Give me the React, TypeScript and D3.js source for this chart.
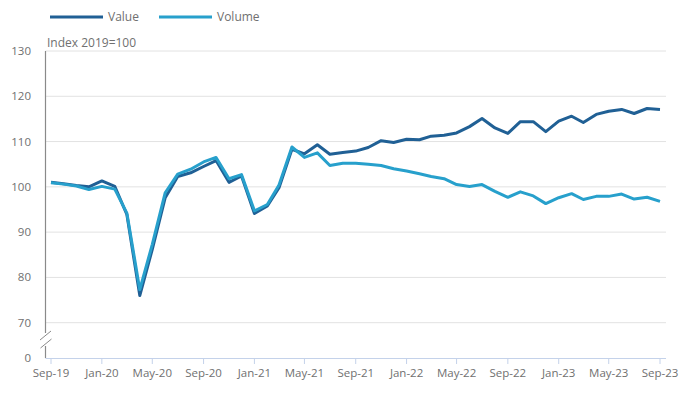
import React from 'react';
import * as d3 from 'd3';

// monthly index, Sep-19 .. Sep-23 (2019=100)
const startMonth = new Date(2019, 8, 1);
const endMonth = new Date(2023, 8, 1);
const months = d3.timeMonth.range(startMonth, d3.timeMonth.offset(endMonth, 1));

const valueSeries = [
  101.0, 100.7, 100.3, 100.0, 101.3, 100.1, 93.9, 76.0, 86.2, 97.6, 102.3, 103.1,
  104.5, 105.8, 101.0, 102.4, 94.1, 95.8, 99.8, 108.3, 107.3, 109.3, 107.2, 107.6,
  107.9, 108.7, 110.2, 109.8, 110.5, 110.4, 111.2, 111.4, 111.9, 113.3, 115.1, 113.0,
  111.8, 114.4, 114.4, 112.2, 114.5, 115.6, 114.2, 116.0, 116.7, 117.1, 116.2, 117.3,
  117.1,
];

const volumeSeries = [
  100.9, 100.6, 100.2, 99.4, 100.1, 99.5, 94.2, 77.3, 87.3, 98.7, 102.8, 103.9,
  105.5, 106.5, 101.8, 102.7, 94.7, 96.1, 100.4, 108.8, 106.5, 107.5, 104.7, 105.2,
  105.2, 105.0, 104.7, 104.0, 103.5, 102.9, 102.3, 101.8, 100.5, 100.1, 100.5, 99.0,
  97.7, 98.9, 98.0, 96.3, 97.6, 98.5, 97.2, 97.9, 97.9, 98.4, 97.3, 97.7,
  96.8,
];

const yTicks = [0, 70, 80, 90, 100, 110, 120, 130];
const seriesNames = ['Value', 'Volume'];
const colors = ['#206095', '#27a0cc'];

const W = 686;
const H = 398;
const left = 45.5;
const right = 666;

export default function App() {
  const x = d3.scaleTime().domain([startMonth, endMonth]).range([51, 660]);
  // broken axis: 0 sits just below 70
  const y = d3.scaleLinear().domain([0, 70, 130]).range([358, 322.7, 51]);

  const xTicks = d3.timeMonth.every(4)!.range(startMonth, d3.timeMonth.offset(endMonth, 1));
  const fmt = d3.timeFormat('%b-%y');

  const line = d3
    .line<number>()
    .x((_, i) => x(months[i]))
    .y((d) => y(d));

  const textColor = '#707070';
  const font = "'Open Sans', sans-serif";

  return (
    <svg
      width={W}
      height={H}
      style={{ position: 'absolute', left: 0, top: 0, background: '#fff' }}
      fontFamily={font}
    >
      {/* legend */}
      {seriesNames.map((name, i) => {
        const lx = i === 0 ? 50 : 159;
        return (
          <g key={name}>
            <line x1={lx} x2={lx + 53} y1={17} y2={17} stroke={colors[i]} strokeWidth={3} />
            <text x={lx + 58} y={17} dy="0.35em" fontSize={12} fill={textColor}>
              {name}
            </text>
          </g>
        );
      })}

      <text x={47} y={47} fontSize={12} fill={textColor}>
        Index 2019=100
      </text>

      {/* gridlines */}
      {yTicks
        .filter((t) => t > 0)
        .map((t) => (
          <line key={t} x1={left} x2={right} y1={y(t)} y2={y(t)} stroke="#e2e2e2" strokeWidth={1} />
        ))}

      {/* y labels */}
      {yTicks.map((t) => (
        <text
          key={t}
          x={31}
          y={y(t)}
          dy="0.35em"
          textAnchor="end"
          fontSize={11.5}
          fill={textColor}
        >
          {t}
        </text>
      ))}

      {/* y axis with break */}
      <line x1={left} x2={left} y1={y(130)} y2={333} stroke="#8a8a8a" strokeWidth={1.2} />
      <line x1={left} x2={left} y1={346} y2={358} stroke="#8a8a8a" strokeWidth={1.2} />
      <line x1={40} x2={51} y1={340} y2={331} stroke="#8a8a8a" strokeWidth={1} />
      <line x1={40.5} x2={51.5} y1={348} y2={339} stroke="#8a8a8a" strokeWidth={1} />

      {/* x axis */}
      <line x1={left} x2={right} y1={358.5} y2={358.5} stroke="#c4d2ea" strokeWidth={1} />
      {xTicks.map((d) => (
        <g key={+d} transform={`translate(${x(d)},0)`}>
          <line y1={358.5} y2={364} stroke="#c4d2ea" strokeWidth={1} />
          <text y={377} textAnchor="middle" fontSize={11.5} fill={textColor}>
            {fmt(d)}
          </text>
        </g>
      ))}

      {/* series */}
      {[valueSeries, volumeSeries].map((s, i) => (
        <path
          key={i}
          d={line(s) || ''}
          fill="none"
          stroke={colors[i]}
          strokeWidth={3}
          strokeLinejoin="round"
        />
      ))}
    </svg>
  );
}
